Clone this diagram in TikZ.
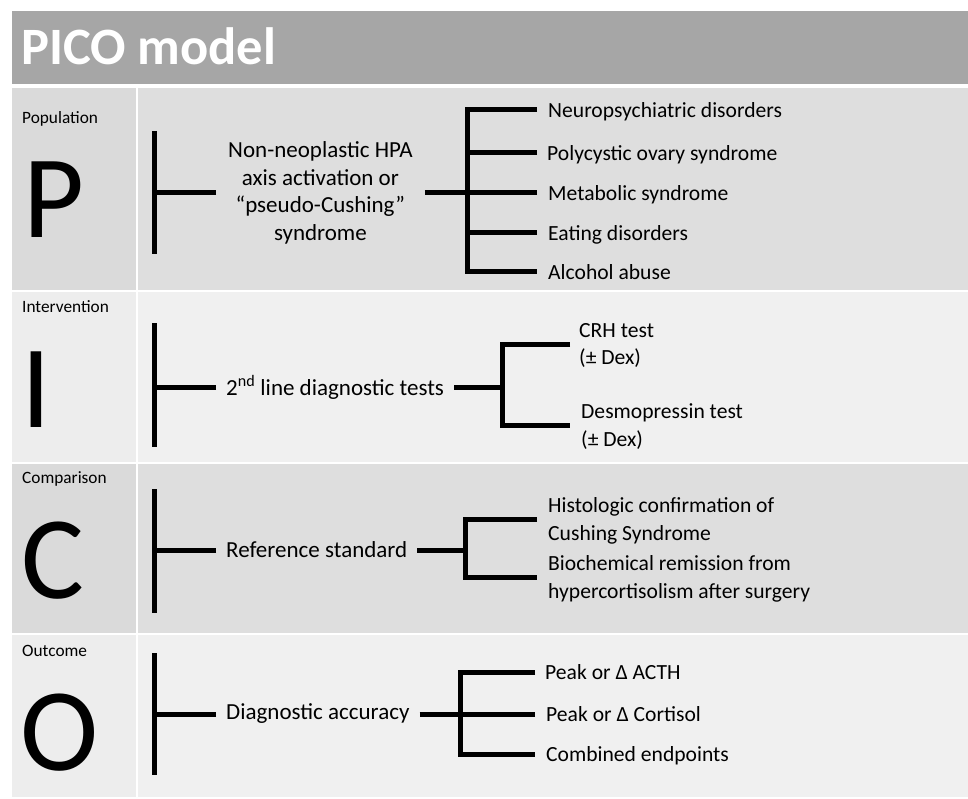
\documentclass[tikz,border=0pt]{standalone}
\usepackage{fontspec}
\setmainfont{Carlito}
\usepackage{tikz}
\usetikzlibrary{positioning, calc}
\usepackage{xcolor}
\definecolor{titlegray}{HTML}{A6A6A6}
\definecolor{darkcell}{HTML}{DEDEDE}
\definecolor{darkcellL}{HTML}{DADADA}
\definecolor{lightcell}{HTML}{F0F0F0}
\definecolor{lightcellL}{HTML}{EDEDED}
\tikzset{
  bar/.style={line width=5pt},
  tag/.style={font=\fontsize{17.3}{19}\selectfont, anchor=west, inner sep=0pt},
  letter/.style={font=\fontsize{118}{118}\selectfont, anchor=base, inner sep=0pt},
  maintext/.style={font=\fontsize{23}{27.5}\selectfont, anchor=west,
                 inner xsep=10pt, inner ysep=0pt, align=center},
  itemtext/.style={font=\fontsize{21.6}{27.5}\selectfont, anchor=west,
                 inner xsep=11pt, inner ysep=0pt, text depth=0pt, align=left},
}

\begin{document}
\begin{tikzpicture}[x=1pt, y=-1pt]
    \useasboundingbox (0,0) rectangle (968,799);
    %% backgrounds
    \fill[titlegray] (12,11) rectangle (968,84);
    \fill[darkcellL]  (12,88)  rectangle (136,290);
    \fill[darkcell]   (138,88) rectangle (968,290);
    \fill[lightcellL] (12,292) rectangle (136,462);
    \fill[lightcell]  (138,292) rectangle (968,462);
    \fill[darkcellL]  (12,464) rectangle (136,633);
    \fill[darkcell]   (138,464) rectangle (968,633);
    \fill[lightcellL] (12,635) rectangle (136,797);
    \fill[lightcell]  (138,635) rectangle (968,797);
    \node[font=\fontsize{52.5}{52.5}\selectfont\bfseries, text=white,
          anchor=base west, inner sep=0pt] (title) at (21,65) {PICO model};

    %% P: population
    \begin{scope}
      \node[tag] (pTag) at (22,119) {Population};
      \node[letter] (pLet) at (54,238) {P};
      \coordinate (pTop) at (154,131);
      \coordinate (pBot) at (154,254);
      \node[maintext, inner xsep=12pt] (pMain) at (216,193)
        {Non-neoplastic HPA\\axis activation or\\“pseudo-Cushing”\\syndrome};
      \coordinate (pFork) at (467,193);
      \node[itemtext] (pNeuro) at (537,110) {Neuropsychiatric disorders};
      \node[itemtext, inner xsep=10pt] (pPoly) at (537,153) {Polycystic ovary syndrome};
      \node[itemtext] (pMeta) at (537,193) {Metabolic syndrome};
      \node[itemtext] (pEat)  at (537,233) {Eating disorders};
      \node[itemtext] (pAlc)  at (537,272) {Alcohol abuse};
      \draw[bar] (pTop) -- (pBot);
      \draw[bar] (pMain.west) -- (pMain.west -| pTop);
      \draw[bar] (pMain.east) -- (pFork);
      \draw[bar] (pNeuro.west) -| (pFork) |- (pAlc.west);
      \foreach \n in {pPoly, pMeta, pEat}
        \draw[bar] (\n.west) -- (\n.west -| pFork);
    \end{scope}

    %% I: intervention
    \begin{scope}
      \node[tag] (iTag) at (22,307) {Intervention};
      \node[letter] (iLet) at (36.5,427) {I};
      \coordinate (iTop) at (154,323);
      \coordinate (iBot) at (154,447);
      \node[maintext] (iMain) at (216,387) {2\textsuperscript{nd} line diagnostic tests};
      \coordinate (iFork) at (502,387);
      \node[itemtext, inner xsep=9pt] (iCrh) at (570,344) {CRH test\\(± Dex)};
      \node[itemtext] (iDes) at (570,425) {Desmopressin test\\(± Dex)};
      \draw[bar] (iTop) -- (iBot);
      \draw[bar] (iMain.west) -- (iMain.west -| iTop);
      \draw[bar] (iMain.east) -- (iFork);
      \draw[bar] (iCrh.west) -| (iFork) |- (iDes.west);
    \end{scope}

    %% C: comparison
    \begin{scope}
      \node[tag] (cTag) at (22,479) {Comparison};
      \node[letter] (cLet) at (53,598) {C};
      \coordinate (cTop) at (154,489);
      \coordinate (cBot) at (154,613);
      \node[maintext] (cMain) at (216,550) {Reference standard};
      \coordinate (cFork) at (465,550);
      \node[itemtext] (cHist) at (537,519) {Histologic confirmation of\\Cushing Syndrome};
      \node[itemtext] (cBio)  at (537,577) {Biochemical remission from\\hypercortisolism after surgery};
      \draw[bar] (cTop) -- (cBot);
      \draw[bar] (cMain.west) -- (cMain.west -| cTop);
      \draw[bar] (cMain.east) -- (cFork);
      \draw[bar] (cHist.west) -| (cFork) |- (cBio.west);
    \end{scope}

    %% O: outcome
    \begin{scope}
      \node[tag] (oTag) at (22,651) {Outcome};
      \node[letter] (oLet) at (60,770) {O};
      \coordinate (oTop) at (154,653);
      \coordinate (oBot) at (154,775);
      \node[maintext] (oMain) at (216,714) {Diagnostic accuracy};
      \coordinate (oFork) at (460,714);
      \node[itemtext, inner xsep=10pt] (oActh) at (535,672) {Peak or Δ ACTH};
      \node[itemtext] (oCort) at (535,714) {Peak or Δ Cortisol};
      \node[itemtext] (oComb) at (535,754) {Combined endpoints};
      \draw[bar] (oTop) -- (oBot);
      \draw[bar] (oMain.west) -- (oMain.west -| oTop);
      \draw[bar] (oMain.east) -- (oFork);
      \draw[bar] (oActh.west) -| (oFork) |- (oComb.west);
      \draw[bar] (oCort.west) -- (oCort.west -| oFork);
    \end{scope}
  \end{tikzpicture}
\end{document}
